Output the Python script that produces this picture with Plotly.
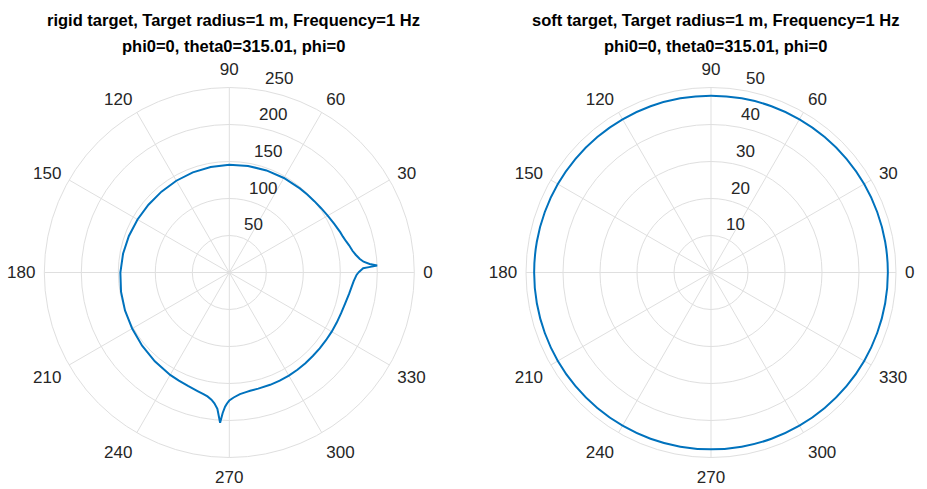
import math
import plotly.graph_objects as go

# ---- data ----
theta_rigid = [0, 0.9, 1.8, 2.2, 2.7, 3.5, 4.6, 6, 8, 10, 12.8, 15, 17.5, 20, 25, 30, 35, 40, 45, 50,
               60, 70, 80, 90, 100, 110, 120, 130, 140, 150, 160, 170, 180, 190, 200, 210, 220, 230,
               240, 245, 250, 255, 258, 260, 262, 263.5, 265, 266.5, 267.3, 268.2, 269, 270, 272,
               275, 278.3, 280, 284, 290, 295, 300, 305, 310, 315, 320, 325, 330, 335, 340, 345,
               350, 353.4, 356, 358.9, 360]
r_rigid = [174.5, 177.5, 181, 189, 200, 190, 182, 177, 172.5, 169, 166, 163.3, 161, 159.5, 156.2, 153.5,
           151.5, 150, 149, 148.3, 147.5, 146.8, 146.2, 145.5, 144.8, 144, 143.2, 142.6, 142.6, 143.2,
           144.4, 145.8, 147.2, 148.6, 150, 151.6, 153.8, 156.6, 159.8, 161.3, 163.2, 165.8, 168,
           170, 173.5, 178, 185, 203.5, 190, 181.5, 177, 173, 169, 165, 163, 162.3, 161.7, 161.5,
           161.3, 161, 160.5, 160, 159.6, 159.5, 159.5, 159.8, 160.2, 160.8, 162, 164.5, 166.5,
           168.5, 172, 174.5]

theta_soft = [0, 10, 20, 30, 40, 50, 60, 70, 80, 90, 100, 110, 120, 130, 140, 150, 160, 170, 180,
              190, 200, 210, 220, 230, 240, 250, 260, 270, 280, 290, 300, 310, 320, 330, 340, 350, 360]
r_soft = [47.8, 47.8, 47.8, 47.8, 47.8, 47.8, 47.8, 47.8, 47.8, 47.8, 47.8, 47.8, 47.8, 47.8, 47.8,
          47.8, 47.8, 47.8, 47.8, 47.8, 47.8, 47.8, 47.8, 47.8, 47.8, 47.8, 47.8, 47.8, 47.8, 47.8,
          47.8, 47.8, 47.8, 47.8, 47.8, 47.8, 47.8]

angle_ticks = [0, 30, 60, 90, 120, 150, 180, 210, 240, 270, 300, 330]
angle_labels = ["0", "30", "60", "90", "120", "150", "180", "210", "240", "270", "300", "330"]
rigid_rticks = [50, 100, 150, 200, 250]
soft_rticks = [10, 20, 30, 40, 50]

titles_left = ["rigid target, Target radius=1 m, Frequency=1 Hz", "phi0=0, theta0=315.01, phi=0"]
titles_right = ["soft target, Target radius=1 m, Frequency=1 Hz", "phi0=0, theta0=315.01, phi=0"]

# ---- styling / geometry ----
W, H = 927, 489
FONT = "Liberation Sans, Arial, Helvetica, sans-serif"
GRID = "#dfdfdf"
TXT = "#262626"
BLUE = "#0072BD"
RAX_ANGLE = 80
R_PX = 185            # polar radius in pixels
CY_TOP = 272.5        # polar centre (pixels from top)
LEFT_CX, RIGHT_CX = 229.3, 711.0
TICK_FS = 17
TITLE_FS = 16.5

# radial tick labels: left-aligned beside a line at LBL_ANGLE, raised a little
LBL_ANGLE = 82
LBL_DX, LBL_DY = 7.5, 11.0

fig = go.Figure()
fig.add_trace(go.Scatterpolar(r=r_rigid, theta=theta_rigid, mode="lines",
                              line=dict(color=BLUE, width=2), subplot="polar", hoverinfo="skip",
                              showlegend=False))
fig.add_trace(go.Scatterpolar(r=r_soft, theta=theta_soft, mode="lines",
                              line=dict(color=BLUE, width=2, shape="spline"), subplot="polar2",
                              hoverinfo="skip", showlegend=False))


def polar_layout(cx, rmax, rticks):
    hx, hy = R_PX / W, R_PX / H
    xc, yc = cx / W, (H - CY_TOP) / H
    return dict(
        domain=dict(x=[xc - hx, xc + hx], y=[yc - hy, yc + hy]),
        bgcolor="white",
        radialaxis=dict(range=[0, rmax], tickmode="array", tickvals=rticks, showticklabels=False,
                        ticks="", showline=False, gridcolor=GRID, gridwidth=1, angle=RAX_ANGLE),
        angularaxis=dict(tickmode="array", tickvals=angle_ticks, ticktext=angle_labels,
                         direction="counterclockwise", rotation=0, showline=True, linecolor=GRID,
                         linewidth=1, gridcolor=GRID, gridwidth=1, ticks="outside", ticklen=5,
                         tickcolor="rgba(0,0,0,0)",
                         tickfont=dict(size=TICK_FS, color=TXT, family=FONT)),
    )


def radial_labels(cx, rmax, rticks):
    out = []
    for t in rticks:
        rp = t * R_PX / rmax
        px = cx + rp * math.cos(math.radians(LBL_ANGLE)) + LBL_DX
        py = CY_TOP - rp * math.sin(math.radians(LBL_ANGLE)) - LBL_DY
        out.append(dict(text=str(t), x=px / W, y=1 - py / H, xref="paper", yref="paper",
                        xanchor="left", yanchor="middle", showarrow=False,
                        font=dict(size=TICK_FS, color=TXT, family=FONT)))
    return out


fig.update_layout(
    width=W, height=H,
    margin=dict(l=0, r=0, t=0, b=0, autoexpand=False),
    paper_bgcolor="white",
    font=dict(family=FONT, size=TICK_FS, color=TXT),
    polar=polar_layout(LEFT_CX, 250, rigid_rticks),
    polar2=polar_layout(RIGHT_CX, 50, soft_rticks),
    showlegend=False,
)

ann = radial_labels(LEFT_CX, 250, rigid_rticks) + radial_labels(RIGHT_CX, 50, soft_rticks)
for xc, lines in ((233.5, titles_left), (715.0, titles_right)):
    for i, t in enumerate(lines):
        ann.append(dict(text=t, x=xc / W, y=1 - (20 + 25.5 * i) / H, xref="paper", yref="paper",
                        xanchor="center", yanchor="middle", showarrow=False,
                        font=dict(size=TITLE_FS, color="black", family=FONT, weight="bold")))
fig.update_layout(annotations=ann)

fig.write_html("out.html", config={"displayModeBar": False},
               post_script="document.body.style.margin='0';")
